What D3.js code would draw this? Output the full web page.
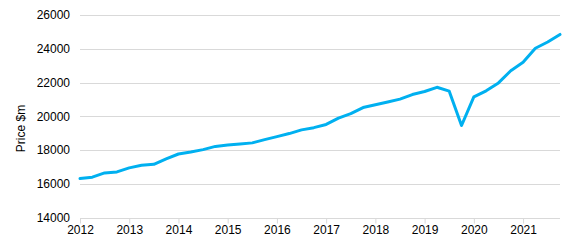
<!DOCTYPE html>
<html>
<head>
<meta charset="utf-8">
<script src="https://cdn.jsdelivr.net/npm/d3@7"></script>
<style>
  html, body { margin: 0; padding: 0; background: #fff; }
  svg { display: block; font-family: "Liberation Sans", Arial, sans-serif; }
</style>
</head>
<body>
<svg id="chart" width="575" height="247"></svg>
<script>
// quarterly price, 2012 Q1 .. 2021 Q4
const years = [2012, 2013, 2014, 2015, 2016, 2017, 2018, 2019, 2020, 2021];
const quarters = years.flatMap(y => [1, 2, 3, 4].map(q => `${y}Q${q}`));
const price = [
  16320, 16400, 16650, 16710, 16950, 17100, 17160, 17480,
  17770, 17890, 18030, 18220, 18300, 18370, 18430, 18620,
  18800, 18980, 19200, 19330, 19520, 19890, 20160, 20520,
  20690, 20850, 21020, 21290, 21470, 21720, 21490, 19460,
  21150, 21510, 21980, 22700, 23200, 24030, 24400, 24850
];
const yTicks = [14000, 16000, 18000, 20000, 22000, 24000, 26000];

const margin = { top: 15, right: 15, bottom: 29, left: 80 };
const width = 575, height = 247;

const svg = d3.select('#chart');

const x = d3.scalePoint()
  .domain(quarters)
  .range([margin.left, 560]);

const y = d3.scaleLinear()
  .domain([14000, 26000])
  .range([height - margin.bottom - 0.3, margin.top]);

// gridlines
svg.append('g')
  .selectAll('line')
  .data(yTicks.slice(1))
  .join('line')
  .attr('x1', margin.left)
  .attr('x2', 560)
  .attr('y1', d => Math.round(y(d)) + 0.5)
  .attr('y2', d => Math.round(y(d)) + 0.5)
  .attr('stroke', '#d9d9d9')
  .attr('stroke-width', 1);

// y axis labels
svg.append('g')
  .selectAll('text')
  .data(yTicks)
  .join('text')
  .attr('x', 70)
  .attr('y', d => y(d))
  .attr('dy', '0.35em')
  .attr('text-anchor', 'end')
  .attr('font-size', 12)
  .attr('fill', '#000')
  .text(d => d);

// x axis
const xAxis = d3.axisBottom(x)
  .tickValues(years.map(yr => `${yr}Q1`))
  .tickFormat(d => d.slice(0, 4))
  .tickSize(5)
  .tickPadding(2);

const gx = svg.append('g')
  .attr('transform', `translate(0,${Math.round(y(14000)) + 0.5})`)
  .call(xAxis);
gx.select('.domain')
  .attr('d', `M${margin.left},0H560`)
  .attr('stroke', '#d9d9d9');
gx.selectAll('.tick line').attr('stroke', '#d9d9d9');
gx.selectAll('.tick text')
  .attr('font-size', 12)
  .attr('font-family', '"Liberation Sans", Arial, sans-serif')
  .attr('fill', '#000');

// y axis title
svg.append('text')
  .attr('transform', `translate(25,${(margin.top + height - margin.bottom) / 2 + 12}) rotate(-90)`)
  .attr('text-anchor', 'middle')
  .attr('font-size', 12)
  .attr('fill', '#000')
  .text('Price $m');

// line
const line = d3.line()
  .x((d, i) => x(quarters[i]))
  .y(d => y(d));

svg.append('path')
  .datum(price)
  .attr('fill', 'none')
  .attr('stroke', '#00b0f0')
  .attr('stroke-width', 3)
  .attr('stroke-linejoin', 'round')
  .attr('stroke-linecap', 'round')
  .attr('d', line);
</script>
</body>
</html>
